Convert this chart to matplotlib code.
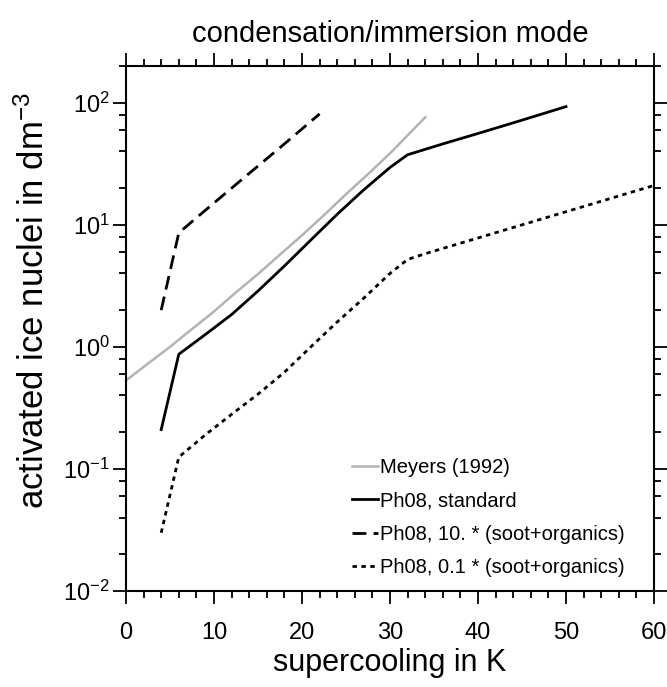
import numpy as np
import matplotlib
matplotlib.use('Agg')
import matplotlib.pyplot as plt
from matplotlib.ticker import LogLocator, MultipleLocator, FixedLocator, FuncFormatter, NullFormatter

plt.rcParams['font.family'] = ['Liberation Sans', 'DejaVu Sans']
plt.rcParams['mathtext.fontset'] = 'custom'
plt.rcParams['mathtext.rm'] = 'Liberation Sans'
plt.rcParams['mathtext.default'] = 'regular'

#------------------------------------------------------------------------------
# data (supercooling in K, IN in dm^-3)
meyers_x = [0, 2.5, 5, 7.5, 10, 12.5, 15, 17.5, 20, 22.5, 25, 27.5, 30, 32, 34]
meyers_y = [0.53, 0.73, 1.0, 1.4, 1.95, 2.8, 3.95, 5.7, 8.2, 12, 17.8, 26, 38.5, 54, 76]

std_x = [4, 6, 9, 12, 15, 18, 21, 24, 27, 30, 32, 36, 40, 45, 50]
std_y = [0.21, 0.87, 1.26, 1.84, 2.87, 4.6, 7.5, 12.2, 19.3, 29.5, 37.5, 46, 56, 72, 93]

x10_x = [4, 6, 10, 14, 18, 22]
x10_y = [2.0, 8.6, 15.1, 26.4, 46, 81]

x01_x = [4, 6, 9, 12, 15, 18, 21, 24, 27, 30, 32, 34, 40, 50, 60]
x01_y = [0.030, 0.125, 0.19, 0.28, 0.41, 0.62, 1.0, 1.6, 2.5, 4.0, 5.2, 5.8, 7.8, 12.8, 21]

labels = ['Meyers (1992)', 'Ph08, standard',
          'Ph08, 10. * (soot+organics)', 'Ph08, 0.1 * (soot+organics)']

#------------------------------------------------------------------------------
fig = plt.figure(figsize=(6.67, 6.87), dpi=100)
ax = fig.add_axes([126/667, 1-591/687, 528/667, 525/687])

ax.plot(meyers_x, meyers_y, color='#b3b3b3', lw=1.8, label=labels[0])
ax.plot(std_x, std_y, color='black', lw=2.0, label=labels[1])
ax.plot(x10_x, x10_y, color='black', lw=2.0, dashes=(5, 2.6), label=labels[2])
ax.plot(x01_x, x01_y, color='black', lw=2.0, dashes=(1.6, 1.6), label=labels[3])

ax.set_yscale('log')
ax.set_xlim(0, 60)
ax.set_ylim(0.01, 200)

ax.xaxis.set_major_locator(MultipleLocator(10))
ax.xaxis.set_minor_locator(MultipleLocator(2))
ax.yaxis.set_major_locator(FixedLocator([0.01, 0.1, 1, 10, 100]))
ax.yaxis.set_minor_locator(LogLocator(base=10, subs=(2, 4, 6, 8)))
ax.yaxis.set_minor_formatter(NullFormatter())
ax.yaxis.set_major_formatter(FuncFormatter(lambda v, p: '$10^{%d}$' % int(round(np.log10(v)))))

ax.tick_params(which='both', direction='out', top=True, right=True, width=1.3, labelsize=17)
ax.tick_params(which='major', length=9.5)
ax.tick_params(axis='y', which='major', pad=2)
ax.tick_params(axis='x', which='major', pad=13)
ax.tick_params(which='minor', length=5)
for s in ax.spines.values():
    s.set_linewidth(1.5)

ax.set_xlabel('supercooling in K', fontsize=22)
ax.set_ylabel('activated ice nuclei in dm$^{-3}$', fontsize=25)
ax.xaxis.set_label_coords(0.5, -0.108)
ax.yaxis.set_label_coords(-0.143, 0.553)
ax.set_title('condensation/immersion mode', fontsize=21, pad=17)

ax.legend(loc='lower left', bbox_to_anchor=(0.393, -0.008), frameon=False,
          fontsize=14.5, handlelength=1.3, handletextpad=0.12, labelspacing=0.72)

plt.savefig('out.png', dpi=100)
